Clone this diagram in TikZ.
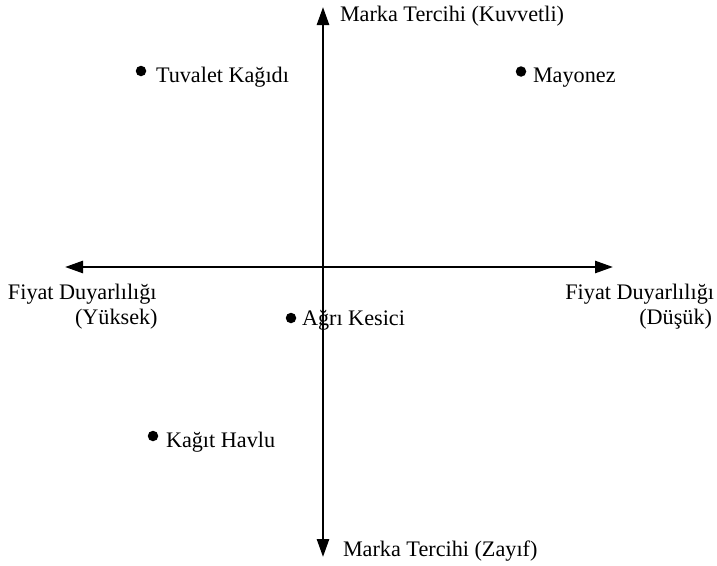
\documentclass[tikz,border=0pt]{standalone}
\usepackage{fontspec}
\setmainfont{Liberation Serif}
\usetikzlibrary{arrows.meta}
\begin{document}
\begin{tikzpicture}[x=1pt,y=-1pt,
  axis/.style={line width=2.6pt,{Triangle[length=18pt,width=12pt]}-{Triangle[length=18pt,width=12pt]}},
  lbl/.style={inner sep=0pt,outer sep=0pt,font=\fontsize{22.2}{26}\selectfont},
  dot/.style={circle,fill=black,inner sep=0pt,minimum size=10.5pt}]
  \useasboundingbox (0,0) rectangle (717,565);
  % axes
  \coordinate (ytop) at (323,7);
  \coordinate (ybot) at (323,557);
  \coordinate (xleft) at (65,267);
  \coordinate (xright) at (613,267);
  \draw[axis] (ybot) -- (ytop);
  \draw[axis] (xleft) -- (xright);
  % axis labels
  \node[lbl,anchor=base west] (ttop) at (340,21) {Marka Tercihi (Kuvvetli)};
  \node[lbl,anchor=base west] (tbot) at (343,556) {Marka Tercihi (Zayıf)};
  \node[lbl,anchor=base west] (tl1) at (8,299) {Fiyat Duyarlılığı};
  \node[lbl,anchor=base west] (tl2) at (75,324) {(Yüksek)};
  \node[lbl,anchor=base east] (tr1) at (714,299) {Fiyat Duyarlılığı};
  \node[lbl,anchor=base east] (tr2) at (712,324) {(Düşük)};
  % products
  \node[dot] (d1) at (141,71) {};
  \node[lbl,anchor=base west] (p1) at (156,82) {Tuvalet Kağıdı};
  \node[dot] (d2) at (521,71.5) {};
  \node[lbl,anchor=base west] (p2) at (533,82) {Mayonez};
  \node[dot] (d3) at (291,318) {};
  \node[lbl,anchor=base west] (p3) at (302,325) {Ağrı Kesici};
  \node[dot] (d4) at (153,436) {};
  \node[lbl,anchor=base west] (p4) at (166,447) {Kağıt Havlu};
\end{tikzpicture}
\end{document}
